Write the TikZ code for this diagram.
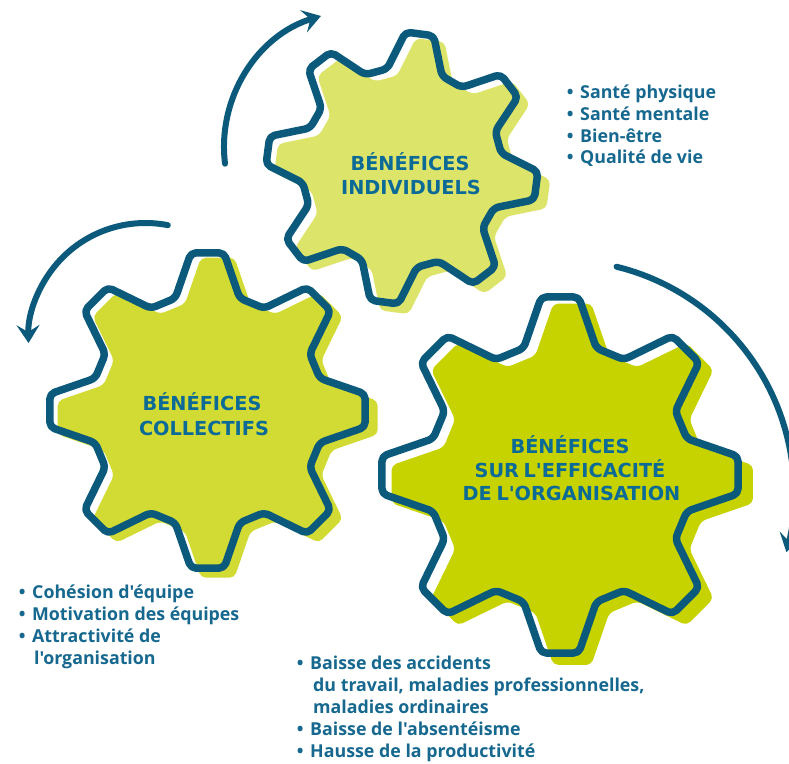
\documentclass[tikz,border=0pt]{standalone}
\usepackage{fontspec}
\usepackage{graphicx}
\usetikzlibrary{arrows.meta,calc}
\newfontfamily\headfont[Ligatures=TeXOff]{DejaVu Sans}
\newfontfamily\listfont[Ligatures=TeXOff]{Open Sans}
\definecolor{outl}{HTML}{0B5A7B}
\definecolor{headc}{HTML}{0B6A96}
\definecolor{listc}{HTML}{16688F}
\definecolor{fillA}{HTML}{DDE46A}
\definecolor{fillB}{HTML}{D2DB33}
\definecolor{fillC}{HTML}{C6D300}
\newcommand\bul{\makebox[20pt][c]{•}}
\newcommand\hs{\hspace{0.24em}}
% gear outline: #1 = tip radius, #2 = rotation
\newcommand\gearpath[2]{%
  ({#2+22.5}:{0.737*#1*cos(6.5)})
  \foreach \k in {1,...,8}{
    -- ({#2+45*\k-16}:{0.737*#1})
    -- ({#2+45*\k-6}:{#1})
    -- ({#2+45*\k+6}:{#1})
    -- ({#2+45*\k+16}:{0.737*#1})
  } -- cycle}
\begin{document}
\begin{tikzpicture}[x=1pt,y=-1pt,
  gearline/.style={draw=outl,line width=7.5pt,line join=round,rounded corners=5pt},
  gearfill/.style={rounded corners=5pt,scale=1.015},
  cyclearrow/.style={draw=outl,line width=6pt,line cap=round,
    -{Stealth[length=18pt,width=23pt,inset=7pt]}},
  headline/.style={font=\headfont\bfseries\fontsize{19.3}{22}\selectfont,
    text=headc,inner sep=0pt,anchor=base},
  listline/.style={font=\listfont\bfseries\fontsize{17.8}{21}\selectfont,
    text=listc,inner sep=0pt,anchor=base west}]
\useasboundingbox (0,0) rectangle (789,763);
\fill[white] (0,0) rectangle (789,763);
\clip (0,0) rectangle (789,763);

\coordinate (g1) at (402,168);
\coordinate (g2) at (207.5,410.5);
\coordinate (g3) at (560,475);

% gear fills (offset)
\fill[fillA,gearfill,shift={($(g1)+(10,8)$)}] \gearpath{136}{7.5};
\fill[fillB,gearfill,shift={($(g2)+(10,7)$)}] \gearpath{158.5}{0};
\fill[fillC,gearfill,shift={($(g3)+(12,9)$)}] \gearpath{179}{0};

% gear outlines
\draw[gearline,shift={(g1)}] \gearpath{136}{7.5};
\draw[gearline,shift={(g2)}] \gearpath{158.5}{0};
\draw[gearline,shift={(g3)}] \gearpath{179}{0};

% rotation arrows
\coordinate (a1) at (361,147);
\coordinate (a2) at (145.5,340);
\coordinate (a3) at (561,493);
\draw[cyclearrow] ($(a1)+(173:137)$) arc[start angle=173,end angle=253,radius=137];
\draw[cyclearrow] ($(a2)+(-79:117)$) arc[start angle=-79,end angle=-181.5,radius=117];
\draw[cyclearrow] ($(a3)+(-76.2:233)$) arc[start angle=-76.2,end angle=14.7,radius=233];

% headings
\node[headline] (h1a) at (410,170) {BÉNÉFICES};
\node[headline] (h1b) at (411,194) {INDIVIDUELS};
\node[headline] (h2a) at (202,410.7) {BÉNÉFICES};
\node[headline] (h2b) at (204,435) {COLLECTIFS};
\node[headline] (h3a) at (570,453.5) {BÉNÉFICES};
\node[headline] (h3b) at (570,477.3) {SUR\hs L'EFFICACITÉ};
\node[headline] (h3c) at (571.5,500.8) {DE\hs L'ORGANISATION};

% lists
\foreach \t [count=\i from 0] in {Santé physique, Santé mentale, Bien-être, Qualité de vie}
  \node[listline] (ind\i) at (560,{98.5+21.8*\i}) {\bul\t};

\node[listline] (col0) at (12,598) {\bul Cohésion d'équipe};
\node[listline] (col1) at (12,620) {\bul Motivation des équipes};
\node[listline] (col2) at (12,642) {\bul Attractivité de};
\node[listline] (col3) at (34,664) {l'organisation};

\node[listline] (org0) at (290,669.5) {\bul Baisse des accidents};
\node[listline] (org1) at (313,691.5) {du travail, maladies professionnelles,};
\node[listline] (org2) at (313,713.5) {maladies ordinaires};
\node[listline] (org3) at (290,735.5) {\bul Baisse de l'absentéisme};
\node[listline] (org4) at (290,757.5) {\bul Hausse de la productivité};
\end{tikzpicture}
\end{document}
